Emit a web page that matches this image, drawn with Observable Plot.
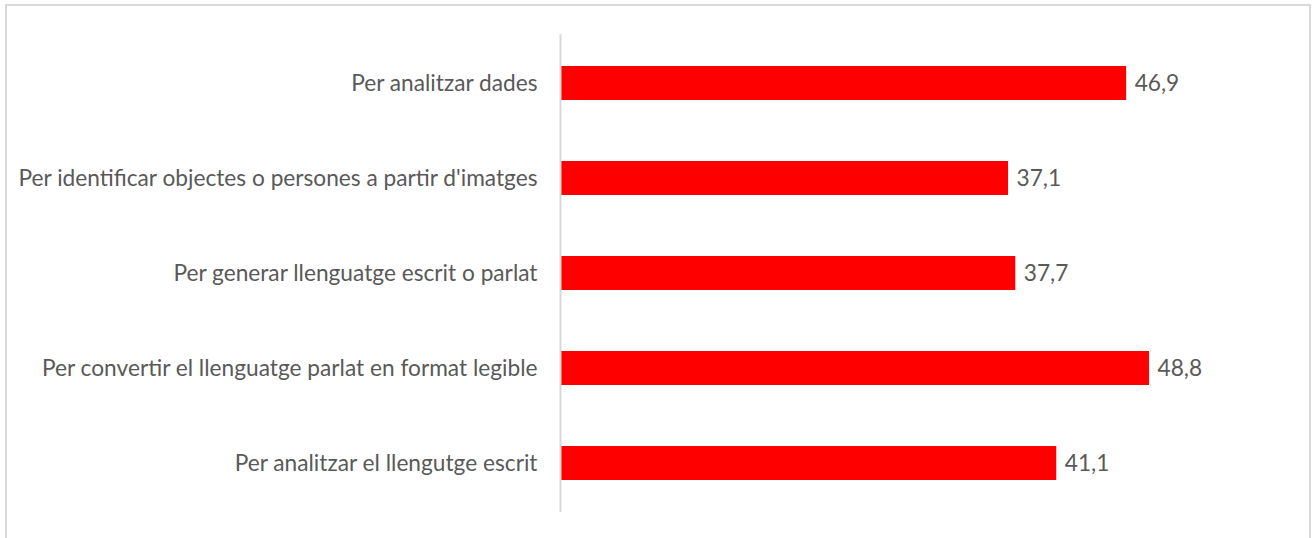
<!DOCTYPE html>
<html>
<head>
<meta charset="utf-8">
<script src="https://cdn.jsdelivr.net/npm/d3@7"></script>
<script src="https://cdn.jsdelivr.net/npm/@observablehq/plot@0.6"></script>
<style>
  html, body { margin: 0; padding: 0; background: #fff; }
  #wrap { position: relative; width: 1314px; height: 538px; overflow: hidden; }
  #border { position: absolute; left: 5px; top: 4px; width: 1306px; height: 600px; border: 2px solid #d9d9d9; box-sizing: border-box; pointer-events: none; }
  #chart svg { display: block; }
</style>
</head>
<body>
<div id="wrap">
  <div id="chart"></div>
  <div id="border"></div>
</div>
<script>
const categories = [
  "Per analitzar dades",
  "Per identificar objectes o persones a partir d'imatges",
  "Per generar llenguatge escrit o parlat",
  "Per convertir el llenguatge parlat en format legible",
  "Per analitzar el llengutge escrit"
];
const values = [46.9, 37.1, 37.7, 48.8, 41.1];

const data = categories.map((c, i) => ({category: c, value: values[i]}));
const fmt = v => v.toFixed(1).replace(".", ",");
const FONT = "Lato, 'Open Sans', sans-serif";

const chart = Plot.plot({
  width: 1314,
  height: 538,
  marginLeft: 561,
  marginRight: 30,
  marginTop: 34,
  marginBottom: 26,
  style: {fontFamily: FONT, fontSize: "22.7px", color: "#595959", background: "transparent"},
  x: {domain: [0, 60], axis: null},
  y: {domain: categories, paddingInner: 0.644, paddingOuter: 0.322, label: null, tickSize: 0, tickPadding: 24},
  marks: [
    Plot.barX(data, {x: "value", y: "category", fill: "#ff0000"}),
    Plot.ruleX([0], {stroke: "#d9d9d9", strokeWidth: 2, dx: -1}),
    Plot.text(data, {x: "value", y: "category", text: d => fmt(d.value), textAnchor: "start", dx: 8, fill: "#595959", fontSize: 22.7})
  ]
});
document.getElementById("chart").appendChild(chart);
</script>
</body>
</html>
